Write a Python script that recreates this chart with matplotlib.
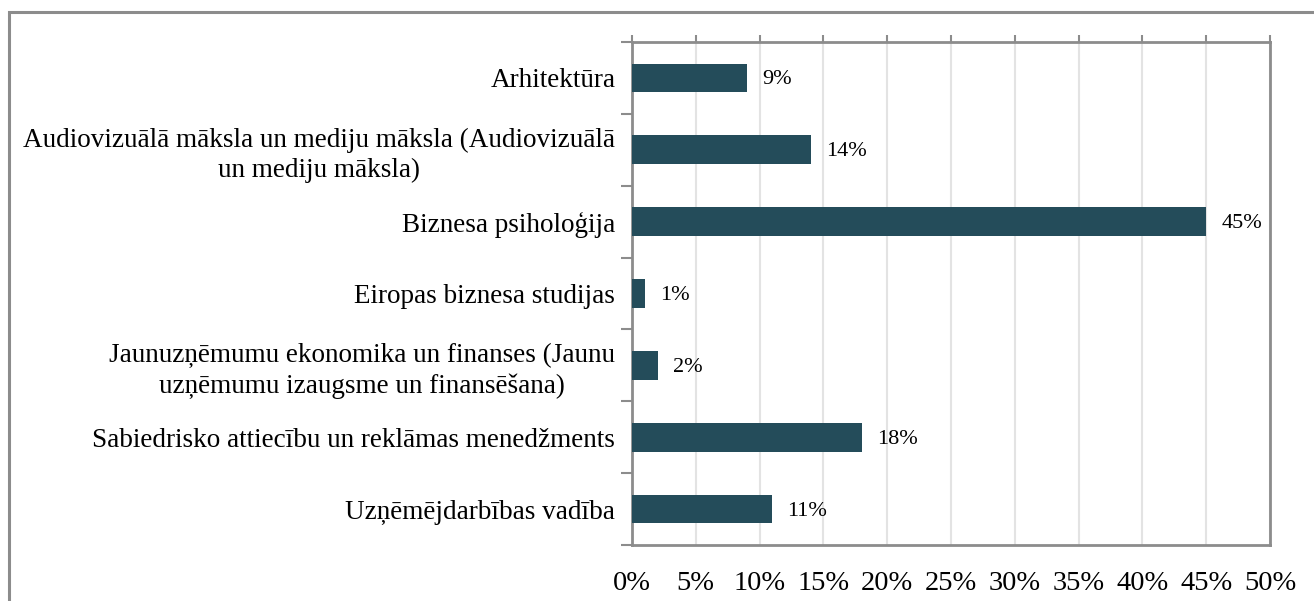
import matplotlib.pyplot as plt
from matplotlib.patches import Rectangle
from matplotlib.ticker import FixedLocator

plt.rcParams['font.family'] = ['Liberation Serif', 'DejaVu Serif']

categories = [
    "Arhitektūra",
    "Audiovizuālā māksla un mediju māksla (Audiovizuālā\nun mediju māksla)",
    "Biznesa psiholoģija",
    "Eiropas biznesa studijas",
    "Jaunuzņēmumu ekonomika un finanses (Jaunu\nuzņēmumu izaugsme un finansēšana)",
    "Sabiedrisko attiecību un reklāmas menedžments",
    "Uzņēmējdarbības vadība",
]
shares = [9, 14, 45, 1, 2, 18, 11]
x_ticks = [0, 5, 10, 15, 20, 25, 30, 35, 40, 45, 50]

bar_color = "#244c5a"
frame_gray = "#8c8c8c"

fig = plt.figure(figsize=(13.14, 6.01), dpi=100)
ax = fig.add_axes([632 / 1314, 1 - 545 / 601, (1270 - 632) / 1314, (545 - 42) / 601])

# outer chart border (clipped at the right and bottom like the original)
fig.patches.append(Rectangle((9 / 1314, -0.1), 1.2, 1 - 12 / 601 + 0.1,
                             transform=fig.transFigure, fill=False,
                             edgecolor=frame_gray, linewidth=2.2, zorder=0))

ypos = list(range(len(categories)))
ax.barh(ypos, shares, height=0.4, color=bar_color, zorder=3)

for y, v in zip(ypos, shares):
    ax.annotate(f"{v}%", (v, y), xytext=(15, -2), textcoords="offset pixels",
                ha="left", va="center", fontsize=16)

ax.set_xlim(0, 50)
ax.set_ylim(len(categories) - 0.5, -0.5)

ax.set_xticks(x_ticks)
ax.set_xticklabels([f"{t}%" for t in x_ticks], fontsize=20.5)
ax.tick_params(axis="x", bottom=False, top=True, labelbottom=True, labeltop=False,
               direction="out", length=5, width=1.5, color=frame_gray, pad=14)

ax.set_yticks(ypos)
ax.set_yticklabels(categories, fontsize=19.5, multialignment="center", linespacing=1.25)
ax.yaxis.set_minor_locator(FixedLocator([i - 0.5 for i in range(len(categories) + 1)]))
ax.tick_params(axis="y", which="major", length=0, pad=12)
ax.tick_params(axis="y", which="minor", length=8, width=1.5, color=frame_gray, direction="out")

ax.grid(axis="x", color="#e3e3e3", linewidth=1.5, zorder=0)
ax.set_axisbelow(True)
for s in ax.spines.values():
    s.set_color(frame_gray)
    s.set_linewidth(2)

fig.savefig("out.png", dpi=100)
